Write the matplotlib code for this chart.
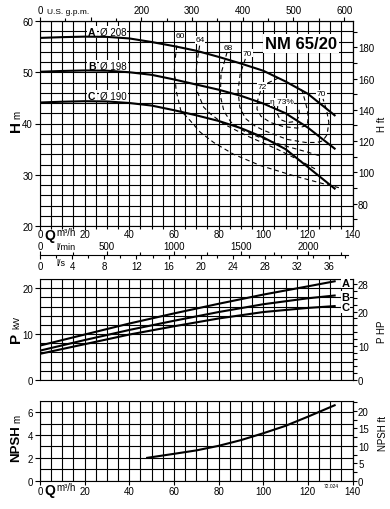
import numpy as np
import matplotlib
matplotlib.use('Agg')
import matplotlib.pyplot as plt
from matplotlib.ticker import MultipleLocator

plt.rcParams['font.family'] = ['Liberation Sans', 'DejaVu Sans']
plt.rcParams['font.size'] = 7

# head curves, H [m] vs Q [m3/h]
q_head = [0, 10, 20, 30, 40, 50, 60, 70, 80, 90, 100, 110, 120, 132]
h_a = [56.7, 56.85, 56.95, 56.9, 56.6, 55.9, 55.1, 54.2, 53.0, 51.7, 50.3, 48.2, 45.8, 41.6]
h_b = [50.1, 50.25, 50.35, 50.3, 50.0, 49.5, 48.6, 47.6, 46.6, 45.4, 43.9, 42.0, 39.2, 35.1]
h_c = [44.1, 44.25, 44.35, 44.3, 44.0, 43.5, 42.6, 41.6, 40.5, 39.1, 37.3, 35.0, 31.5, 27.3]

# efficiency lines (Q, H)
eff60_q = [61.3, 60.1, 61.0, 63.1, 66.6, 71.8, 77.8, 86.7, 98.7, 113.7, 125.6, 134.6]
eff60_h = [55.2, 51.0, 46.4, 42.5, 40.9, 38.3, 36.3, 34.0, 31.8, 29.8, 28.4, 27.4]
eff64_q = [71.5, 70.0, 70.3, 73.3, 76.3, 82.3, 92.7, 106.2, 116.7, 123.4]
eff64_h = [55.2, 51.0, 46.4, 43.2, 41.9, 39.9, 37.6, 35.0, 32.7, 31.1]
eff68_q = [83.8, 81.1, 80.8, 82.4, 85.5, 91.0, 100.0, 110.0, 120.0, 126.0]
eff68_h = [53.9, 49.7, 45.4, 42.4, 40.3, 38.6, 37.0, 35.6, 34.4, 33.6]
eff70_q = [92.0, 89.7, 88.7, 89.5, 92.0, 96.0, 100.0, 110.7, 119.0, 124.1, 126.6, 128.6, 129.4, 128.4, 126.8]
eff70_h = [52.6, 49.7, 46.4, 43.2, 41.0, 39.6, 38.7, 36.9, 36.3, 36.3, 36.6, 37.8, 40.2, 42.6, 44.8]
eff72_q = [107.0, 102.0, 99.0, 97.5, 97.2, 99.0, 103.2, 109.0, 115.2, 119.7, 120.2, 119.7, 118.5, 117.4, 115.5]
eff72_h = [48.9, 47.9, 46.6, 44.5, 42.8, 41.4, 40.2, 39.4, 39.1, 39.6, 41.2, 42.8, 44.8, 46.4, 47.2]
eff73_q = [106.5, 106.2, 107.5, 111.0, 114.5, 116.3, 116.0]
eff73_h = [43.4, 42.0, 40.8, 40.2, 40.4, 41.5, 43.0]
eff_labels = ['60', '64', '68', '70', '72', 'η 73%', '70']
eff_lab_q = [62.8, 71.8, 84.5, 93.0, 99.5, 108.4, 126.1]
eff_lab_h = [57.1, 56.3, 54.9, 53.7, 47.3, 44.2, 45.8]

# power curves, P [kW]
q_pow = [0, 20, 40, 60, 80, 100, 120, 132]
p_a = [7.5, 9.9, 12.3, 14.5, 16.6, 18.6, 20.4, 21.5]
p_b = [6.4, 8.7, 10.9, 12.9, 14.8, 16.5, 17.8, 18.4]
p_c = [5.7, 7.8, 9.9, 11.7, 13.4, 14.8, 15.7, 16.1]

# NPSH [m]
q_npsh = [48, 60, 70, 80, 90, 100, 110, 120, 132]
npsh = [2.0, 2.35, 2.65, 3.05, 3.55, 4.15, 4.8, 5.6, 6.6]

W, H = 390, 510
fig = plt.figure(figsize=(W / 100, H / 100), dpi=100)


def pos(x, y):
    return x / W, 1 - y / H


def grid_axes(top, bottom, ystep):
    ax = fig.add_axes([40 / W, 1 - bottom / H, 312.5 / W, (bottom - top) / H])
    ax.set_xlim(0, 140)
    ax.xaxis.set_minor_locator(MultipleLocator(5))
    ax.yaxis.set_minor_locator(MultipleLocator(ystep))
    ax.grid(which='both', color='black', lw=0.8)
    ax.set_axisbelow(True)
    for s in ax.spines.values():
        s.set_linewidth(0.8)
    ax.tick_params(which='both', width=0.8, pad=1.5)
    ax.tick_params(axis='y', which='minor', length=0)
    ax.set_xticks(np.arange(0, 141, 20))
    return ax


m2ft = (lambda m: m * 3.28084, lambda f: f / 3.28084)
kw2hp = (lambda p: p * 1.34102, lambda h: h / 1.34102)

# ---- head chart
axh = grid_axes(22, 227, 2)
axh.set_ylim(20, 60)
axh.set_yticks([20, 30, 40, 50, 60])
axh.tick_params(axis='x', which='major', length=3, pad=-1)
axh.tick_params(axis='x', which='minor', length=2)
for h in (h_a, h_b, h_c):
    axh.plot(q_head, h, color='black', lw=1.5, zorder=3)
dash = dict(color='black', lw=0.8, linestyle=(0, (4, 3)), zorder=2.6)
for eq, eh in [(eff60_q, eff60_h), (eff64_q, eff64_h), (eff68_q, eff68_h),
               (eff70_q, eff70_h), (eff72_q, eff72_h), (eff73_q, eff73_h)]:
    axh.plot(eq, eh, **dash)
for t, x, y in zip(eff_labels, eff_lab_q, eff_lab_h):
    axh.text(x, y, t, fontsize=6, ha='center', va='center', zorder=4,
             bbox=dict(fc='white', ec='none', pad=0.3))
wb = dict(fc='white', ec='none', pad=0.8)
for letter, dia, y in [('A', 'Ø 208', 57.3), ('B', 'Ø 198', 50.7), ('C', 'Ø 190', 44.8)]:
    axh.text(21.5, y, letter, fontsize=7.5, fontweight='bold', ha='left', va='baseline', zorder=2.8, bbox=wb)
    axh.text(26.8, y, dia, fontsize=7, ha='left', va='baseline', zorder=2.8, bbox=wb)
axh.text(117, 55.7, 'NM 65/20', fontsize=12, fontweight='bold', ha='center', va='center',
         zorder=4, bbox=dict(fc='white', ec='none', pad=1.5))

top = axh.secondary_xaxis('top', functions=(lambda q: q / 0.2271247, lambda g: g * 0.2271247))
top.set_xticks([0, 100, 200, 300, 400, 500, 600], labels=['0', '', '200', '300', '400', '500', '600'])
top.xaxis.set_minor_locator(MultipleLocator(50))
top.tick_params(which='major', length=3, width=0.8, pad=1)
top.tick_params(which='minor', length=2, width=0.8)
fig.text(*pos(47, 12), 'U.S. g.p.m.', fontsize=6, va='center')

rh = axh.secondary_yaxis('right', functions=m2ft)
rh.set_yticks([80, 100, 120, 140, 160, 180])
rh.yaxis.set_minor_locator(MultipleLocator(10))
rh.tick_params(which='major', length=3, width=0.8, pad=1)
rh.tick_params(which='minor', length=3, width=0.8)

fig.text(*pos(16, 126), 'H', fontsize=11, fontweight='bold', rotation=90, ha='center', va='center')
fig.text(*pos(17, 115), 'm', fontsize=7, rotation=90, ha='center', va='center')
fig.text(*pos(382, 124), 'H ft', fontsize=7, rotation=90, ha='center', va='center')
fig.text(*pos(50, 236), 'Q', fontsize=10, fontweight='bold', ha='center', va='center')
fig.text(*pos(56, 233), 'm³/h', fontsize=7, ha='left', va='center')

# ---- l/min and l/s scale
lax = fig.add_axes([40 / W, 1 - 256 / H, 312.5 / W, 0.0005])
lax.set_xlim(0, 140)
for s in lax.spines.values():
    s.set_visible(False)
lax.set_xticks([])
lax.set_yticks([])
lmin = lax.secondary_xaxis('top', functions=(lambda q: q * 1000 / 60, lambda l: l * 60 / 1000))
lmin.set_xticks([0, 500, 1000, 1500, 2000])
lmin.xaxis.set_minor_locator(MultipleLocator(250))
lmin.tick_params(which='major', length=3, width=0.8, pad=-0.5)
lmin.tick_params(which='minor', length=2, width=0.8)
lmin.spines['top'].set_bounds(0, 2300)
lmin.spines['top'].set_linewidth(0.8)
ls = lax.secondary_xaxis('bottom', functions=(lambda q: q / 3.6, lambda s: s * 3.6))
ls.set_xticks(np.arange(0, 37, 4))
ls.xaxis.set_minor_locator(MultipleLocator(2))
ls.tick_params(which='major', length=3, width=0.8, pad=1.5)
ls.tick_params(which='minor', length=2, width=0.8)
ls.spines['bottom'].set_visible(False)
fig.text(*pos(56, 248), 'l/min', fontsize=6.5, ha='left', va='center')
fig.text(*pos(56, 263), 'l/s', fontsize=6.5, ha='left', va='center')

# ---- power chart
axp = grid_axes(280, 381, 2)
axp.set_ylim(0, 22)
axp.set_yticks([0, 10, 20])
axp.tick_params(axis='x', which='both', length=0, labelbottom=False)
for p, lab in [(p_a, 'A'), (p_b, 'B'), (p_c, 'C')]:
    axp.plot(q_pow, p, color='black', lw=1.5, zorder=3)
    axp.text(135, p[-1] - 0.3, lab, fontsize=8, fontweight='bold', ha='left', va='center', zorder=4,
             bbox=dict(fc='white', ec='none', pad=0.3))
rp = axp.secondary_yaxis('right', functions=kw2hp)
rp.set_yticks([0, 10, 20, 28])
rp.yaxis.set_minor_locator(MultipleLocator(2))
rp.tick_params(which='major', length=3, width=0.8, pad=1)
rp.tick_params(which='minor', length=3, width=0.8)
fig.text(*pos(16, 338), 'P', fontsize=11, fontweight='bold', rotation=90, ha='center', va='center')
fig.text(*pos(17, 323), 'kW', fontsize=6.5, rotation=90, ha='center', va='center')
fig.text(*pos(382, 332), 'P HP', fontsize=7, rotation=90, ha='center', va='center')

# ---- NPSH chart
axn = grid_axes(401.7, 481.7, 1)
axn.set_ylim(0, 7)
axn.set_yticks([0, 2, 4, 6])
axn.tick_params(axis='x', which='major', length=3, pad=0.5)
axn.tick_params(axis='x', which='minor', length=0)
axn.plot(q_npsh, npsh, color='black', lw=1.5, zorder=3)
rn = axn.secondary_yaxis('right', functions=m2ft)
rn.set_yticks([0, 5, 10, 15, 20])
rn.yaxis.set_minor_locator(MultipleLocator(2.5))
rn.tick_params(which='major', length=3, width=0.8, pad=1)
rn.tick_params(which='minor', length=3, width=0.8)
fig.text(*pos(16, 444), 'NPSH', fontsize=9.5, fontweight='bold', rotation=90, ha='center', va='center')
fig.text(*pos(17, 419), 'm', fontsize=7, rotation=90, ha='center', va='center')
fig.text(*pos(383, 434), 'NPSH ft', fontsize=7, rotation=90, ha='center', va='center')
fig.text(*pos(50, 491), 'Q', fontsize=10, fontweight='bold', ha='center', va='center')
fig.text(*pos(56, 488), 'm³/h', fontsize=7, ha='left', va='center')
fig.text(*pos(324, 487), '72.024', fontsize=3.5, ha='left', va='center')

fig.savefig('out.png', dpi=100)
